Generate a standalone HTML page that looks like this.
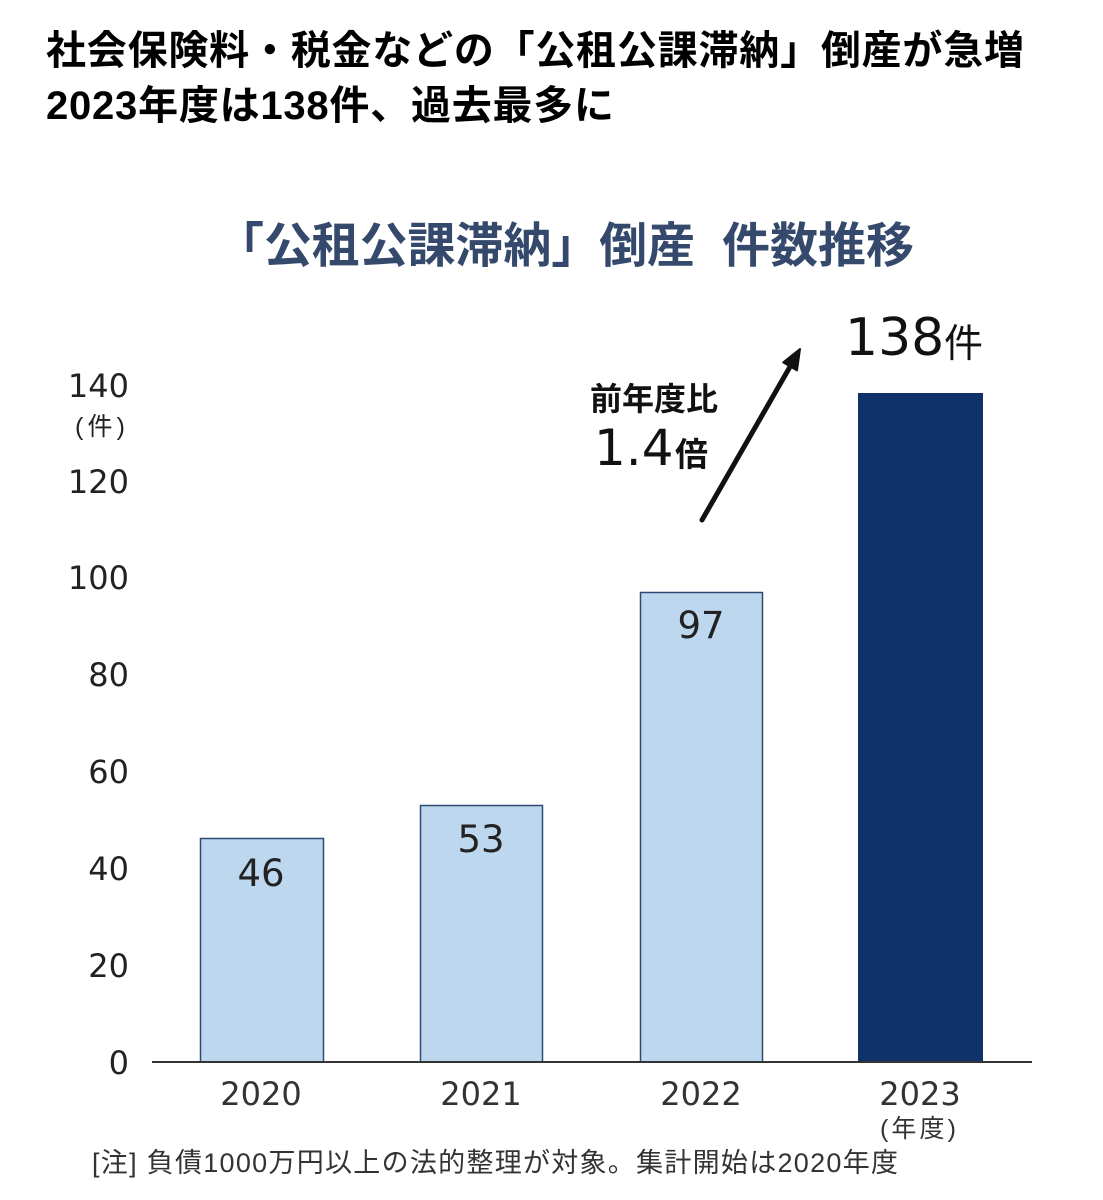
<!DOCTYPE html>
<html>
<head>
<meta charset="utf-8">
<style>
  html,body{margin:0;padding:0;background:#fff;}
  svg{display:block;}
  .jp{font-family:"Liberation Sans","Noto Sans CJK JP",sans-serif;}
  .num{font-family:"DejaVu Sans","Liberation Sans",sans-serif;}
</style>
</head>
<body>
<svg width="1103" height="1200" viewBox="0 0 1103 1200" xmlns="http://www.w3.org/2000/svg">
  <rect width="1103" height="1200" fill="#fff"/>

  <!-- Headline -->
  <text class="jp" x="46" y="64" font-size="40" font-weight="bold" fill="#000" textLength="978">社会保険料・税金などの「公租公課滞納」倒産が急増</text>
  <text class="jp" x="46" y="119" font-size="40" font-weight="bold" fill="#000" textLength="568">2023年度は138件、過去最多に</text>

  <!-- Chart title -->
  <text class="jp" x="216" y="262" font-size="48" font-weight="bold" fill="#34496b" textLength="479">「公租公課滞納」倒産</text>
  <text class="jp" x="722" y="262" font-size="48" font-weight="bold" fill="#34496b" textLength="192">件数推移</text>

  <!-- Y axis labels -->
  <g class="num" font-size="32" fill="#222" text-anchor="end">
    <text x="129" y="397">140</text>
    <text x="129" y="493">120</text>
    <text x="129" y="589">100</text>
    <text x="129" y="686">80</text>
    <text x="129" y="783">60</text>
    <text x="129" y="880">40</text>
    <text x="129" y="977">20</text>
    <text x="129" y="1074">0</text>
  </g>
  <text class="jp" x="75" y="435" font-size="25" fill="#222" textLength="50">(件)</text>

  <!-- Bars -->
  <rect x="200.5" y="838.5" width="123" height="223.5" fill="#bdd7ee" stroke="#2e4a73" stroke-width="1.5"/>
  <rect x="420.5" y="805.5" width="122" height="256.5" fill="#bdd7ee" stroke="#2e4a73" stroke-width="1.5"/>
  <rect x="640.5" y="592.5" width="122" height="469.5" fill="#bdd7ee" stroke="#2e4a73" stroke-width="1.5"/>
  <rect x="858" y="393" width="125" height="669" fill="#0e3269"/>

  <!-- Axis line -->
  <line x1="152" y1="1062" x2="1032" y2="1062" stroke="#333" stroke-width="2"/>

  <!-- Bar value labels -->
  <g class="num" font-size="37" fill="#222" text-anchor="middle">
    <text x="261" y="886">46</text>
    <text x="481" y="852">53</text>
    <text x="701" y="638">97</text>
  </g>

  <!-- 138件 -->
  <text class="num" x="845" y="355" font-size="52" fill="#111">138</text>
  <text class="jp" x="944" y="357" font-size="39" fill="#111">件</text>

  <!-- Annotation -->
  <text class="jp" x="590" y="410" font-size="32" font-weight="bold" fill="#111" textLength="128">前年度比</text>
  <text class="num" x="594" y="465" font-size="50" fill="#111">1.4</text>
  <text class="jp" x="675" y="466" font-size="33" font-weight="bold" fill="#111">倍</text>

  <!-- Arrow -->
  <line x1="702" y1="520" x2="791" y2="365" stroke="#111" stroke-width="5" stroke-linecap="round"/>
  <polygon points="800,349 797,370.4 783.2,362.4" fill="#111" stroke="#111" stroke-width="2" stroke-linejoin="round"/>

  <!-- X labels -->
  <g class="num" font-size="32" fill="#333" text-anchor="middle">
    <text x="261" y="1105">2020</text>
    <text x="481" y="1105">2021</text>
    <text x="701" y="1105">2022</text>
    <text x="920" y="1105">2023</text>
  </g>
  <text class="jp" x="880" y="1137" font-size="25" fill="#333" textLength="76">(年度)</text>

  <!-- Footnote -->
  <text class="jp" x="92" y="1172" font-size="27" fill="#333" textLength="806">[注] 負債1000万円以上の法的整理が対象。集計開始は2020年度</text>
</svg>
</body>
</html>
